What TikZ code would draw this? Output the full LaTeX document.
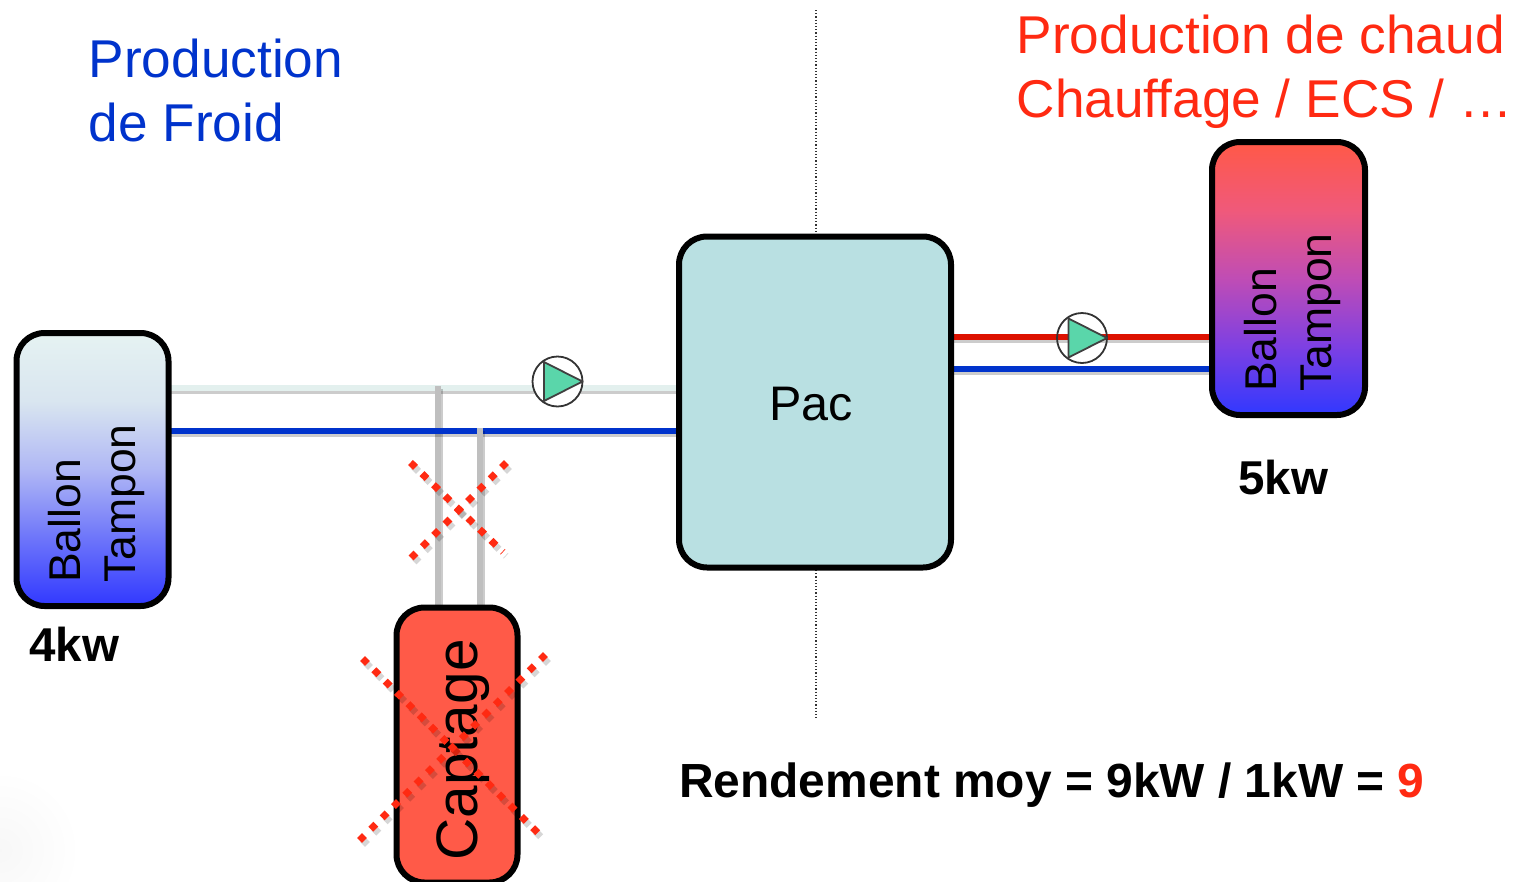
\documentclass[tikz,border=0pt]{standalone}
\usepackage{fontspec}
\setmainfont{Liberation Sans}
\usetikzlibrary{calc,backgrounds}
\definecolor{pacFill}{HTML}{B9E0E2}
\definecolor{hotTop}{HTML}{FF5A48}
\definecolor{froidLine}{HTML}{E3F0EE}
\definecolor{pumpFill}{HTML}{5AD6AA}
\definecolor{coldLine}{HTML}{0033CC}
\definecolor{hotLine}{HTML}{DD1100}
\definecolor{crossRed}{HTML}{FF2A12}
\pgfdeclareverticalshading{froidShade}{100bp}{
  rgb(0bp)=(0.19,0.22,1); rgb(25bp)=(0.19,0.22,1); rgb(37.5bp)=(0.43,0.46,0.98);
  rgb(50bp)=(0.69,0.72,0.96); rgb(62.5bp)=(0.85,0.90,0.94); rgb(75bp)=(0.90,0.95,0.95); rgb(100bp)=(0.90,0.95,0.95)}
\pgfdeclareverticalshading{hotShade}{100bp}{
  rgb(0bp)=(0.19,0.22,1); rgb(25bp)=(0.19,0.22,1); rgb(37.5bp)=(0.49,0.25,0.89);
  rgb(50bp)=(0.75,0.30,0.71); rgb(62.5bp)=(0.94,0.35,0.48); rgb(75bp)=(1,0.35,0.28); rgb(100bp)=(1,0.35,0.28)}
\tikzset{
  boxnode/.style = {draw=black, line width=6pt, rounded corners=28pt, align=center, inner sep=0pt, outer sep=0pt, text=black},
  tank_f/.style = {boxnode, minimum width=152pt, minimum height=273pt, shading=froidShade},
  tank_c/.style = {boxnode, minimum width=153pt, minimum height=273pt, shading=hotShade},
  tanktext/.style = {rotate=90, anchor=south west, align=left, inner sep=0pt, font=\fontsize{44.5}{55}\selectfont},
  pipe/.style = {line width=6pt, preaction={draw=black, draw opacity=0.2, line width=5pt, transform canvas={shift={(2pt,-3pt)}}}},
  pump_n/.style = {circle, draw=black!80, line width=1.8pt, minimum size=50pt, inner sep=0pt, outer sep=0pt},
  pumptip/.style = {draw=black!75, line width=1.8pt, fill=pumpFill, line join=round},
  crossline/.style = {draw=crossRed, line width=7pt, dash pattern=on 7pt off 9pt,
    preaction={draw=black, draw opacity=0.16, line width=7pt, dash pattern=on 7pt off 9pt, transform canvas={shift={(3pt,-4pt)}}}},
  titletext/.style = {anchor=base west, inner sep=0pt, align=left, font=\fontsize{53.2}{64}\selectfont},
  boldtext/.style = {anchor=base west, inner sep=0pt, font=\fontsize{47.5}{50}\selectfont\bfseries}
}

\begin{document}
\begin{tikzpicture}[x=1pt,y=-1pt]
\useasboundingbox (0,0) rectangle (1526,881);

\node [tank_f] (ballonF) at (92.5,469.5) {};
\node [tank_c] (ballonC) at (1288.5,278.5) {};
\node [boxnode, fill=pacFill, minimum width=272pt, minimum height=331pt] (pac) at (815,402) {};
\node [boxnode, fill=hotTop, minimum width=121pt, minimum height=275pt] (captage) at (457,745) {};

\node [pump_n, fill=white] (pumpF) at (557.5,381.5) {};
\node [pump_n] (pumpC) at (1082,338) {};

% tuyaux
\coordinate (fTop) at (300,388);
\coordinate (fBot) at (300,431);
\coordinate (cTop) at (1100,337);
\coordinate (cBot) at (1100,369);
\coordinate (capA) at (438,386);
\coordinate (capB) at (480,428);
\coordinate (sepTop) at (816,10);
\coordinate (sepBot) at (816,719);
\begin{scope}[on background layer]
\shade[inner color=black!3, outer color=white, draw=none] (0,850) circle (80);
\draw[black!80, line width=1.2pt, dotted] (sepTop) -- (sepBot);
\draw[pipe, froidLine] (ballonF.east |- fTop) -- (pac.west |- fTop);
\draw[pipe, black!25] (capA) -- (capA |- captage.north);
\draw[pipe, coldLine] (ballonF.east |- fBot) -- (pac.west |- fBot);
\draw[pipe, black!25] (capB) -- (capB |- captage.north);
\draw[pipe, hotLine] (pac.east |- cTop) -- (ballonC.west |- cTop);
\draw[pipe, coldLine] (pac.east |- cBot) -- (ballonC.west |- cBot);
\end{scope}

% pompes
\foreach \p in {pumpF,pumpC}{
  \draw[pumptip] ($(\p)+(-13.5,-19.5)$) -- ($(\p)+(25,0)$) -- ($(\p)+(-13.5,19.5)$) -- cycle;
}

\node [font=\fontsize{48.5}{50}\selectfont, inner sep=0pt] (textPac) at (811,404) {Pac};
\node [tanktext] (textF) at (145,583) {Ballon\\Tampon};
\node [tanktext] (textC) at (1341,392) {Ballon\\Tampon};
\node [rotate=90, inner sep=0pt, font=\fontsize{58.5}{60}\selectfont] (textCap) at (463,750) {Captage};

\node [titletext, text=coldLine] (titleF) at (88.5,141) {Production\\de Froid};
\node [titletext, text=crossRed] (titleC) at (1016.5,117.5) {Production de chaud\\Chauffage / ECS / …};

\node [boldtext] (kwF) at (29,661) {4kw};
\node [boldtext] (kwC) at (1238,494) {5kw};
\node [boldtext, font=\fontsize{47.9}{50}\selectfont\bfseries] (rendement) at (679,797) {Rendement moy = 9kW / 1kW = \textcolor{crossRed}{9}};

% croix
\coordinate (a1) at (410.5,462.5);
\coordinate (a2) at (503,552);
\coordinate (a3) at (410,559);
\coordinate (a4) at (506.5,462.5);
\coordinate (b1) at (362.5,658.5);
\coordinate (b2) at (539,834);
\coordinate (b3) at (359,841);
\coordinate (b4) at (545.5,654.5);
\draw[crossline] (a1) -- (a2);
\draw[crossline] (a4) -- (a3);
\draw[crossline] (b1) -- (b2);
\draw[crossline] (b4) -- (b3);
\end{tikzpicture}
\end{document}
